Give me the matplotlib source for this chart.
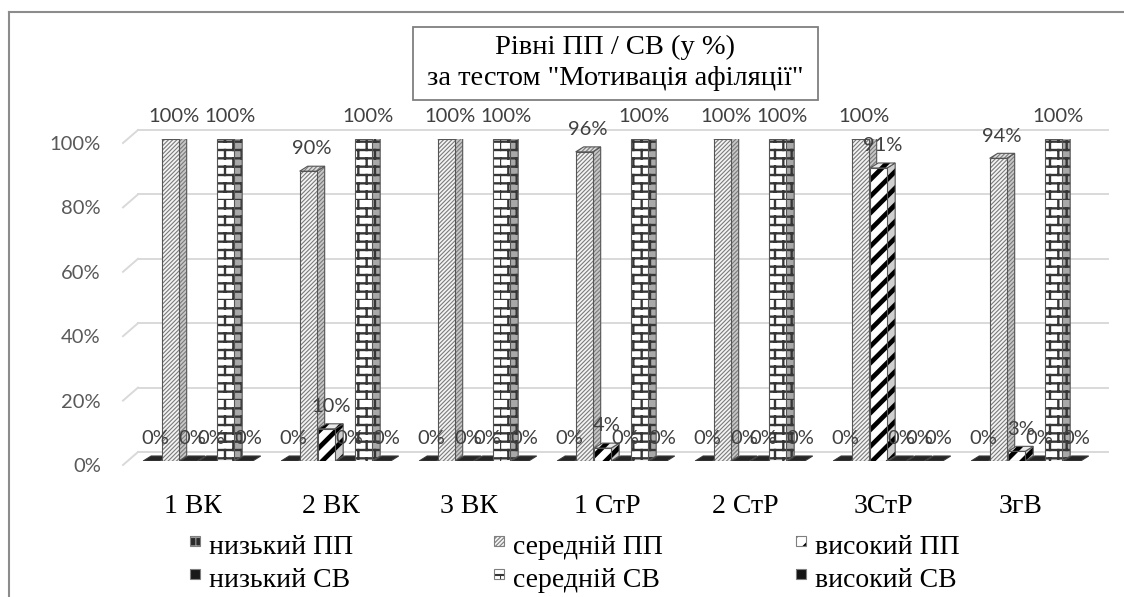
import warnings
import numpy as np
import matplotlib
matplotlib.use("Agg")
import matplotlib.pyplot as plt
import matplotlib.hatch as mhatch
from matplotlib.path import Path
from matplotlib.patches import Polygon, Rectangle
from matplotlib.lines import Line2D
from matplotlib.transforms import ScaledTranslation

warnings.filterwarnings("ignore")

# ---- data -------------------------------------------------------------
categories = ["1 ВК", "2 ВК", "3 ВК", "1 СтР", "2 СтР", "3СтР", "ЗгВ"]
series_names = ["низький ПП", "середній ПП", "високий ПП",
                "низький СВ", "середній СВ", "високий СВ"]
low_pp = [0, 0, 0, 0, 0, 0, 0]
mid_pp = [100, 90, 100, 96, 100, 100, 94]
high_pp = [0, 10, 0, 4, 0, 91, 3]
low_sv = [0, 0, 0, 0, 0, 0, 0]
mid_sv = [100, 100, 100, 100, 100, 0, 100]
high_sv = [0, 0, 0, 0, 0, 0, 0]
yticks = [0, 20, 40, 60, 80, 100]
title = 'Рівні ПП / СВ (у %)\nза тестом "Мотивація афіляції"'

series = [low_pp, mid_pp, high_pp, low_sv, mid_sv, high_sv]


# ---- brick fill pattern ("b" in a hatch string) ------------------------
class BrickHatch(mhatch.HatchPatternBase):
    def __init__(self, hatch, density):
        self.rows = hatch.count("b") * density
        self.num_vertices = self.rows * (2 + self.rows) if self.rows else 0

    def set_vertices_and_codes(self, vertices, codes):
        n = self.rows
        h = 1.0 / n
        bw = 2.0 * h
        idx = 0
        for i in range(n):
            y0 = i * h
            vertices[idx] = (0, y0)
            vertices[idx + 1] = (1, y0)
            codes[idx] = Path.MOVETO
            codes[idx + 1] = Path.LINETO
            idx += 2
            for k in range(n // 2):
                x = (k + 0.5 * (i % 2)) * bw
                vertices[idx] = (x, y0)
                vertices[idx + 1] = (x, y0 + h)
                codes[idx] = Path.MOVETO
                codes[idx + 1] = Path.LINETO
                idx += 2


mhatch._hatch_types.append(BrickHatch)

# ---- styles -----------------------------------------------------------
styles = [
    dict(face="#2b2b2b", side="#1e1e1e", top="#3a3a3a", hatch="++", hc="#9a9a9a", hlw=0.8),
    dict(face="#f4f4f4", side="#c8c8c8", top="#dcdcdc", hatch="////////", hc="#7a7a7a", hlw=0.8),
    dict(face="#ffffff", side="#cfcfcf", top="#e8e8e8", hatch="//", hc="#000000", hlw=3.4),
    dict(face="#1a1a1a", side="#111111", top="#2a2a2a", hatch=None, hc="#1a1a1a", hlw=1.0),
    dict(face="#ffffff", side="#a8a8a8", top="#6e6e6e", hatch="bb", hc="#363636", hlw=1.7),
    dict(face="#141414", side="#0c0c0c", top="#262626", hatch=None, hc="#141414", hlw=1.0),
]
OUTLINE = "#555555"
SERIF = "Liberation Serif"
SANS = "Lato"

W, H = 1124, 597
fig = plt.figure(figsize=(W / 100, H / 100), dpi=100)
fig.patch.set_facecolor("white")

# plot area in pixels (front plane of the bars)
ax_l, ax_r, ax_t, ax_b = 123, 1093, 139, 461
ax = fig.add_axes([ax_l / W, 1 - ax_b / H, (ax_r - ax_l) / W, (ax_b - ax_t) / H])
n_cat = len(categories)
xl0, xl1 = -0.543, 6.486
ax.set_xlim(xl0, xl1)
ax.set_ylim(0, 100)
for s in ax.spines.values():
    s.set_visible(False)

px_x = (ax_r - ax_l) / (xl1 - xl0)
px_y = (ax_b - ax_t) / 100.0

# depth offsets
ddx, ddy = 8 / px_x, 5 / px_y          # bar side / top face
back_dx, back_dy = 15 / px_x, 9 / px_y  # back wall
front_dy = -4 / px_y

# gridlines on the back wall with a short perspective stub on the left
for v in yticks:
    ax.plot([xl0, xl0 + back_dx], [v + front_dy, v + back_dy],
            color="#d9d9d9", lw=1.4, clip_on=False, zorder=0)
    ax.plot([xl0 + back_dx, xl1 + back_dx], [v + back_dy, v + back_dy],
            color="#d9d9d9", lw=1.4, clip_on=False, zorder=0)

bar_step = 18.5 / px_x
bar_w = 17 / px_x
n_ser = len(series)


def face(pts, fc, st, z):
    p = Polygon(pts, closed=True, facecolor=fc,
                edgecolor=st["hc"], lw=0, hatch=st["hatch"], zorder=z)
    if hasattr(p, "set_hatch_linewidth"):
        p.set_hatch_linewidth(st["hlw"])
    ax.add_patch(p)
    ax.add_patch(Polygon(pts, closed=True, fill=False, edgecolor=OUTLINE,
                         lw=0.8, zorder=z + 0.01))


z = 2.0
for i in range(n_cat):
    for k in range(n_ser):
        st = styles[k]
        v = series[k][i]
        xc = i + (k - (n_ser - 1) / 2) * bar_step
        x0, x1 = xc - bar_w / 2, xc + bar_w / 2
        front = [(x0, 0), (x1, 0), (x1, v), (x0, v)]
        side = [(x1, 0), (x1 + ddx, ddy), (x1 + ddx, v + ddy), (x1, v)]
        top = [(x0, v), (x1, v), (x1 + ddx, v + ddy), (x0 + ddx, v + ddy)]
        if v > 0:
            face(side, st["side"], st, z)
            face(top, st["top"], st, z + 0.02)
            face(front, st["face"], st, z + 0.04)
        else:
            slab = Polygon(top, closed=True, facecolor="#262626",
                           edgecolor="#3a3a3a", lw=0.8, zorder=z)
            ax.add_patch(slab)
        z += 0.1

# value labels
for i in range(n_cat):
    for k in range(n_ser):
        v = series[k][i]
        xc = i + (k - (n_ser - 1) / 2) * bar_step
        ax.annotate(f"{v}%", (xc + ddx / 2, v), xytext=(0, 16),
                    textcoords="offset points", ha="center", va="center",
                    fontsize=14.5, family=SANS, color="#404040",
                    zorder=50, annotation_clip=False)

# axes ticks
ax.set_yticks(yticks)
ax.set_yticklabels([f"{t}%" for t in yticks], family=SANS, fontsize=14.5,
                   color="#595959")
ax.set_xticks(np.arange(n_cat) - 5 / px_x)
ax.set_xticklabels(categories, family=SERIF, fontsize=20, color="black")
ax.tick_params(axis="y", length=0, pad=16)
ax.tick_params(axis="x", length=0, pad=24)
ax.set_facecolor("none")
# y labels sit on the front edge of the floor, a little below the bars' plane
shift = ScaledTranslation(0, -4 / 100, fig.dpi_scale_trans)
for lab in ax.get_yticklabels():
    lab.set_transform(lab.get_transform() + shift)

# title box
fig.add_artist(Rectangle((413 / W, 1 - 100 / H), 405 / W, 73 / H,
                         transform=fig.transFigure, facecolor="white",
                         edgecolor="#7f7f7f", lw=1.3, zorder=5))
fig.text(615 / W, 1 - 63 / H, title, ha="center", va="center",
         fontsize=20.5, family=SERIF, linespacing=1.32, zorder=6)

# legend, three entries per row
col_x = [190, 494, 796]
row_base = [554, 587]
for k, name in enumerate(series_names):
    r, c = divmod(k, 3)
    st = styles[k]
    mx, my = col_x[c], row_base[r] - 18
    m = Rectangle((mx / W, 1 - (my + 10) / H), 10 / W, 10 / H,
                  transform=fig.transFigure, facecolor=st["face"],
                  edgecolor=st["hc"], lw=0, hatch=st["hatch"])
    if hasattr(m, "set_hatch_linewidth"):
        m.set_hatch_linewidth(min(st["hlw"], 1.5))
    fig.add_artist(m)
    fig.add_artist(Rectangle((mx / W, 1 - (my + 10) / H), 10 / W, 10 / H,
                             transform=fig.transFigure, fill=False,
                             edgecolor="#7f7f7f", lw=0.8))
    fig.text((mx + 19) / W, 1 - row_base[r] / H, name, ha="left",
             va="baseline", fontsize=20, family=SERIF)

# outer frame (top and left edges)
fig.add_artist(Line2D([9 / W, 1], [1 - 12 / H] * 2, transform=fig.transFigure,
                      color="#8c8c8c", lw=1.5))
fig.add_artist(Line2D([9 / W] * 2, [0, 1 - 12 / H], transform=fig.transFigure,
                      color="#8c8c8c", lw=1.5))

fig.savefig("out.png", dpi=100)
